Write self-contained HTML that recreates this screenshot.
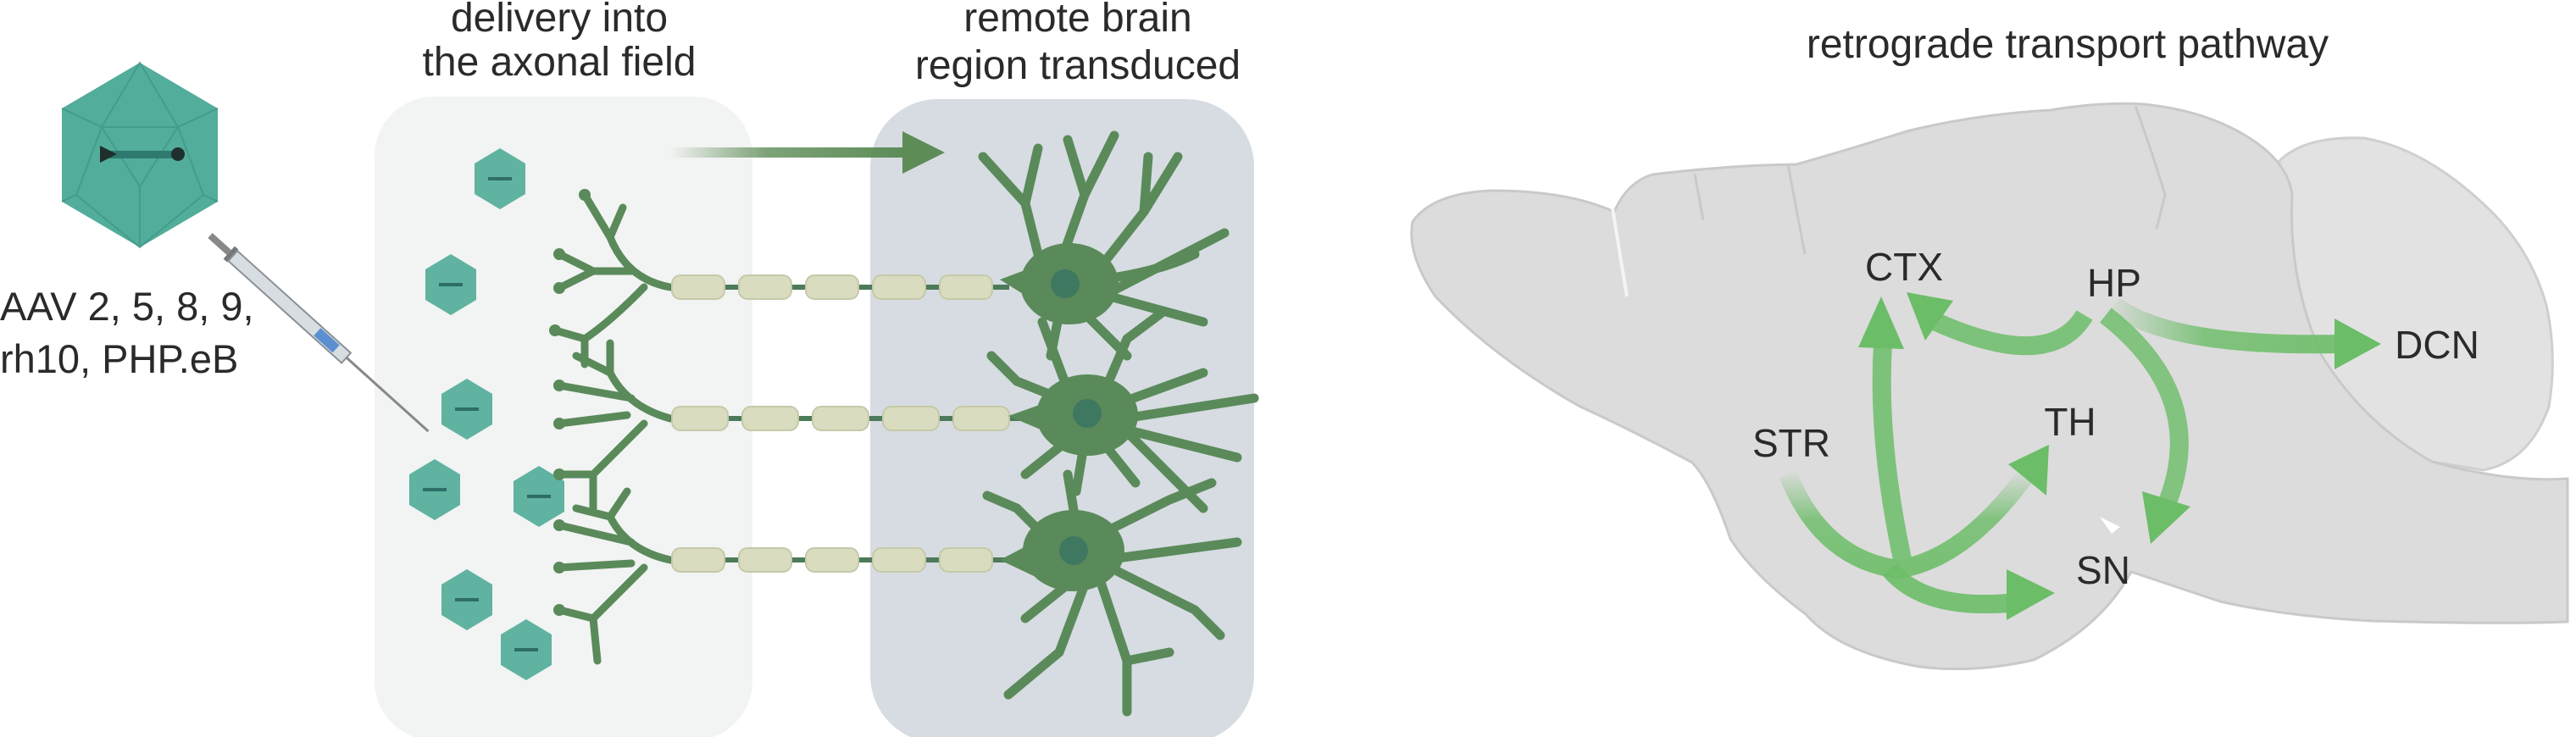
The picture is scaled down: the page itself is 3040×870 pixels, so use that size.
<!DOCTYPE html>
<html><head><meta charset="utf-8"><style>
html,body{margin:0;padding:0;background:#fff;}
svg{display:block}
text{font-family:"Liberation Sans",sans-serif;fill:#2a2a2a}
</style></head><body>
<svg width="3040" height="870" viewBox="0 0 3040 870" xmlns="http://www.w3.org/2000/svg">
<defs>
<linearGradient id="arr1" x1="0" x2="1" y1="0" y2="0"><stop offset="0" stop-color="#5d8c57" stop-opacity="0"/><stop offset="0.4" stop-color="#5d8c57" stop-opacity="0.8"/><stop offset="1" stop-color="#5d8c57"/></linearGradient>
<linearGradient id="gs" x1="0" x2="0" y1="0" y2="1"><stop offset="0" stop-color="#6cbd68" stop-opacity="0"/><stop offset="0.5" stop-color="#6cbd68" stop-opacity="0.9"/><stop offset="1" stop-color="#6cbd68"/></linearGradient>
<linearGradient id="gh" x1="0" x2="1" y1="0" y2="0"><stop offset="0" stop-color="#6cbd68" stop-opacity="0.1"/><stop offset="0.4" stop-color="#6cbd68" stop-opacity="0.9"/><stop offset="1" stop-color="#6cbd68"/></linearGradient>
<g id="cap">
<polygon points="0,-36 30,-18 30,18 0,36 -30,18 -30,-18" fill="#5fb3a0"/>
<rect x="-14" y="-2" width="28" height="4" fill="#2e6e66"/>
</g>
</defs>

<!-- LEFT PANEL -->
<text x="660" y="37" font-size="48" text-anchor="middle">delivery into</text>
<text x="660" y="89" font-size="48" text-anchor="middle">the axonal field</text>
<text x="1272" y="37" font-size="48" text-anchor="middle">remote brain</text>
<text x="1272" y="93" font-size="48" text-anchor="middle">region transduced</text>

<rect x="442" y="114" width="446" height="760" rx="70" fill="#f2f3f3"/>
<rect x="1027" y="117" width="453" height="760" rx="80" fill="#d6dce1"/>

<rect x="791" y="174" width="280" height="12" fill="url(#arr1)"/>
<polygon points="1065,155 1115,180 1065,205" fill="#5d8c57"/>

<g>
<polygon points="165,74 257,128 257,238 165,292 73,238 73,128" fill="#52ad9a"/>
<path d="M165,74 L120,150 L210,150 Z M73,128 L120,150 M257,128 L210,150 M120,150 L90,230 L165,292 L240,230 L210,150 M90,230 L73,238 M240,230 L257,238 M120,150 L165,220 L210,150 M165,220 L165,292" fill="none" stroke="#3f9485" stroke-width="2" opacity="0.7"/>
<rect x="128" y="178" width="80" height="9" fill="#2e7a70"/>
<polygon points="118,172 138,182 118,192" fill="#1f2f2d"/>
<circle cx="210" cy="182" r="8" fill="#1f2f2d"/>
</g>

<text x="0" y="378" font-size="47">AAV 2, 5, 8, 9,</text>
<text x="0" y="440" font-size="47">rh10, PHP.eB</text>

<g transform="translate(248,278) rotate(42)">
<rect x="0" y="-4" width="30" height="8" fill="#888"/>
<rect x="30" y="-10" width="6" height="20" fill="#777"/>
<rect x="36" y="-8" width="180" height="16" fill="#d8dde2" stroke="#8a9096" stroke-width="2"/>
<rect x="170" y="-6" width="30" height="12" fill="#5b8fd0"/>
<rect x="216" y="-2" width="130" height="3" fill="#888"/>
</g>

<use href="#cap" transform="translate(590,211)"/>
<use href="#cap" transform="translate(532,336)"/>
<use href="#cap" transform="translate(551,483)"/>
<use href="#cap" transform="translate(513,578)"/>
<use href="#cap" transform="translate(636,586)"/>
<use href="#cap" transform="translate(551,708)"/>
<use href="#cap" transform="translate(621,767)"/>

<g fill="none" stroke="#5a8a5a" stroke-width="9" stroke-linecap="round">
<path d="M791,339 Q740,330 720,280 L690,230 M720,280 L735,245 M745,320 L700,320 L660,300 M700,320 L660,340 M760,339 Q720,380 690,400 L655,390 M690,400 L690,430"/>
<path d="M791,494 Q740,480 720,440 L680,420 M720,440 L720,405 M745,470 L660,455 M740,490 L660,500 M760,500 Q720,540 700,560 L660,560 M700,560 L700,600"/>
<path d="M791,661 Q740,650 720,610 L680,600 M720,610 L740,580 M745,640 L660,620 M745,665 L660,670 M760,670 Q720,710 700,730 L660,720 M700,730 L705,780"/>
</g>
<g fill="#5a8a5a"><circle cx="690" cy="230" r="7"/><circle cx="660" cy="300" r="7"/><circle cx="660" cy="340" r="7"/><circle cx="655" cy="390" r="7"/><circle cx="660" cy="455" r="7"/><circle cx="660" cy="500" r="7"/><circle cx="660" cy="560" r="7"/><circle cx="660" cy="620" r="7"/><circle cx="660" cy="670" r="7"/><circle cx="660" cy="720" r="7"/></g>

<g>
<rect x="791" y="336" width="400" height="6" fill="#4d7a5a"/>
<rect x="791" y="491" width="420" height="6" fill="#4d7a5a"/>
<rect x="791" y="658" width="400" height="6" fill="#4d7a5a"/>
<g fill="#d9dcbf" stroke="#c6c9a8" stroke-width="2">
<rect x="793" y="325" width="62" height="28" rx="10"/><rect x="872" y="325" width="62" height="28" rx="10"/><rect x="951" y="325" width="62" height="28" rx="10"/><rect x="1030" y="325" width="62" height="28" rx="10"/><rect x="1109" y="325" width="62" height="28" rx="10"/>
<rect x="793" y="480" width="66" height="28" rx="10"/><rect x="876" y="480" width="66" height="28" rx="10"/><rect x="959" y="480" width="66" height="28" rx="10"/><rect x="1042" y="480" width="66" height="28" rx="10"/><rect x="1125" y="480" width="66" height="28" rx="10"/>
<rect x="793" y="647" width="62" height="28" rx="10"/><rect x="872" y="647" width="62" height="28" rx="10"/><rect x="951" y="647" width="62" height="28" rx="10"/><rect x="1030" y="647" width="62" height="28" rx="10"/><rect x="1109" y="647" width="62" height="28" rx="10"/>
</g>
</g>

<g fill="none" stroke="#5a8a5a" stroke-width="11" stroke-linecap="round">
<path d="M1230,320 L1210,240 L1160,185 M1210,240 L1225,175 M1255,300 L1280,230 L1260,165 M1280,230 L1315,160 M1295,320 L1350,250 L1390,185 M1350,250 L1355,185 M1300,330 Q1370,320 1410,300 M1310,345 L1445,275 M1310,350 L1420,380 M1250,370 L1240,420 M1280,370 L1330,420"/>
<path d="M1250,470 L1200,450 L1170,420 M1260,460 L1230,380 M1300,470 L1330,400 L1370,370 M1310,480 L1420,440 M1320,495 L1480,470 M1320,505 L1460,540 M1280,520 L1270,580 M1260,520 L1210,560 M1300,520 L1340,570 M1330,510 L1420,600"/>
<path d="M1240,640 L1200,600 L1165,585 M1270,620 L1260,560 M1300,630 L1380,590 L1430,570 M1310,660 L1460,640 M1320,675 L1410,720 L1440,750 M1280,690 L1250,770 L1190,820 M1260,690 L1210,730 M1300,690 L1330,780 L1330,840 M1330,780 L1380,770"/>
</g>
<g fill="#5a8a5a">
<ellipse cx="1262" cy="335" rx="58" ry="48"/>
<ellipse cx="1283" cy="490" rx="60" ry="48"/>
<ellipse cx="1267" cy="650" rx="60" ry="48"/>
<polygon points="1180,330 1220,315 1220,355"/><polygon points="1190,491 1235,475 1235,510"/><polygon points="1180,661 1220,640 1220,680"/>
</g>
<g fill="#3f7860"><circle cx="1257" cy="335" r="17"/><circle cx="1283" cy="488" r="17"/><circle cx="1267" cy="650" r="17"/></g>

<!-- RIGHT PANEL -->
<text x="2440" y="68" font-size="48" text-anchor="middle">retrograde transport pathway</text>

<path d="M2690,190 Q2720,160 2790,163 Q2860,175 2930,240 Q2985,290 3005,360 Q3018,420 3008,480 Q2985,545 2930,555 L2840,540 Q2760,500 2710,440 Q2680,380 2685,300 Z" fill="#e2e2e2" stroke="#cfcfcf" stroke-width="3"/>
<path d="M1667,262 Q1690,228 1760,225 Q1850,225 1905,250 Q1920,215 1950,206 Q2040,195 2120,194 Q2170,180 2250,155 Q2330,135 2420,130 Q2480,120 2530,123 Q2600,130 2650,160 Q2700,190 2705,230 Q2700,330 2740,420 Q2790,500 2870,545 Q2960,570 3030,565 L3030,734 Q2950,737 2800,733 Q2700,728 2620,710 Q2560,690 2515,675 Q2480,740 2400,779 Q2330,795 2265,787 Q2170,770 2131,725 Q2070,680 2042,636 Q2020,570 1997,546 Q1930,510 1863,479 Q1760,420 1694,350 Q1660,300 1667,262 Z" fill="#dcdcdc" stroke="#c9c9c9" stroke-width="3"/>
<path d="M1903,246 L1915,320 L1920,350" fill="none" stroke="#f4f4f4" stroke-width="4"/>
<path d="M2000,205 L2010,260" fill="none" stroke="#c9c9c9" stroke-width="3"/>
<path d="M2110,194 L2130,300" fill="none" stroke="#c9c9c9" stroke-width="3"/>
<path d="M2520,125 Q2540,180 2555,230 L2545,270" fill="none" stroke="#c9c9c9" stroke-width="3"/>
<path d="M2478,610 L2502,622 L2492,630 Z" fill="#fff"/>

<g fill="none" stroke-width="22" stroke-linecap="butt">
<path d="M2245,660 Q2215,520 2222,405" stroke="#6cbd68" opacity="0.85"/>
<path d="M2460,372 Q2420,440 2285,380" stroke="#6cbd68" opacity="0.85"/>
<path d="M2110,560 Q2150,660 2240,672 Q2320,660 2395,555" stroke="url(#gs)" opacity="0.9"/>
<path d="M2230,672 Q2270,720 2370,712" stroke="#6cbd68" opacity="0.9"/>
<path d="M2485,372 Q2610,470 2555,600" stroke="#6cbd68" opacity="0.8"/>
<path d="M2495,360 Q2560,410 2760,406" stroke="url(#gh)" opacity="0.9"/>
</g>
<g fill="#6cbd68">
<polygon points="2220,350 2193,410 2247,412"/>
<polygon points="2250,345 2305,355 2272,402"/>
<polygon points="2418,525 2415,585 2370,548"/>
<polygon points="2425,700 2368,672 2368,732"/>
<polygon points="2538,642 2528,580 2585,598"/>
<polygon points="2810,406 2755,376 2755,436"/>
</g>

<g font-size="46">
<text x="2247" y="331" text-anchor="middle">CTX</text>
<text x="2495" y="350" text-anchor="middle">HP</text>
<text x="2876" y="423" text-anchor="middle">DCN</text>
<text x="2114" y="539" text-anchor="middle">STR</text>
<text x="2443" y="514" text-anchor="middle">TH</text>
<text x="2482" y="689" text-anchor="middle">SN</text>
</g>
</svg>
</body></html>
